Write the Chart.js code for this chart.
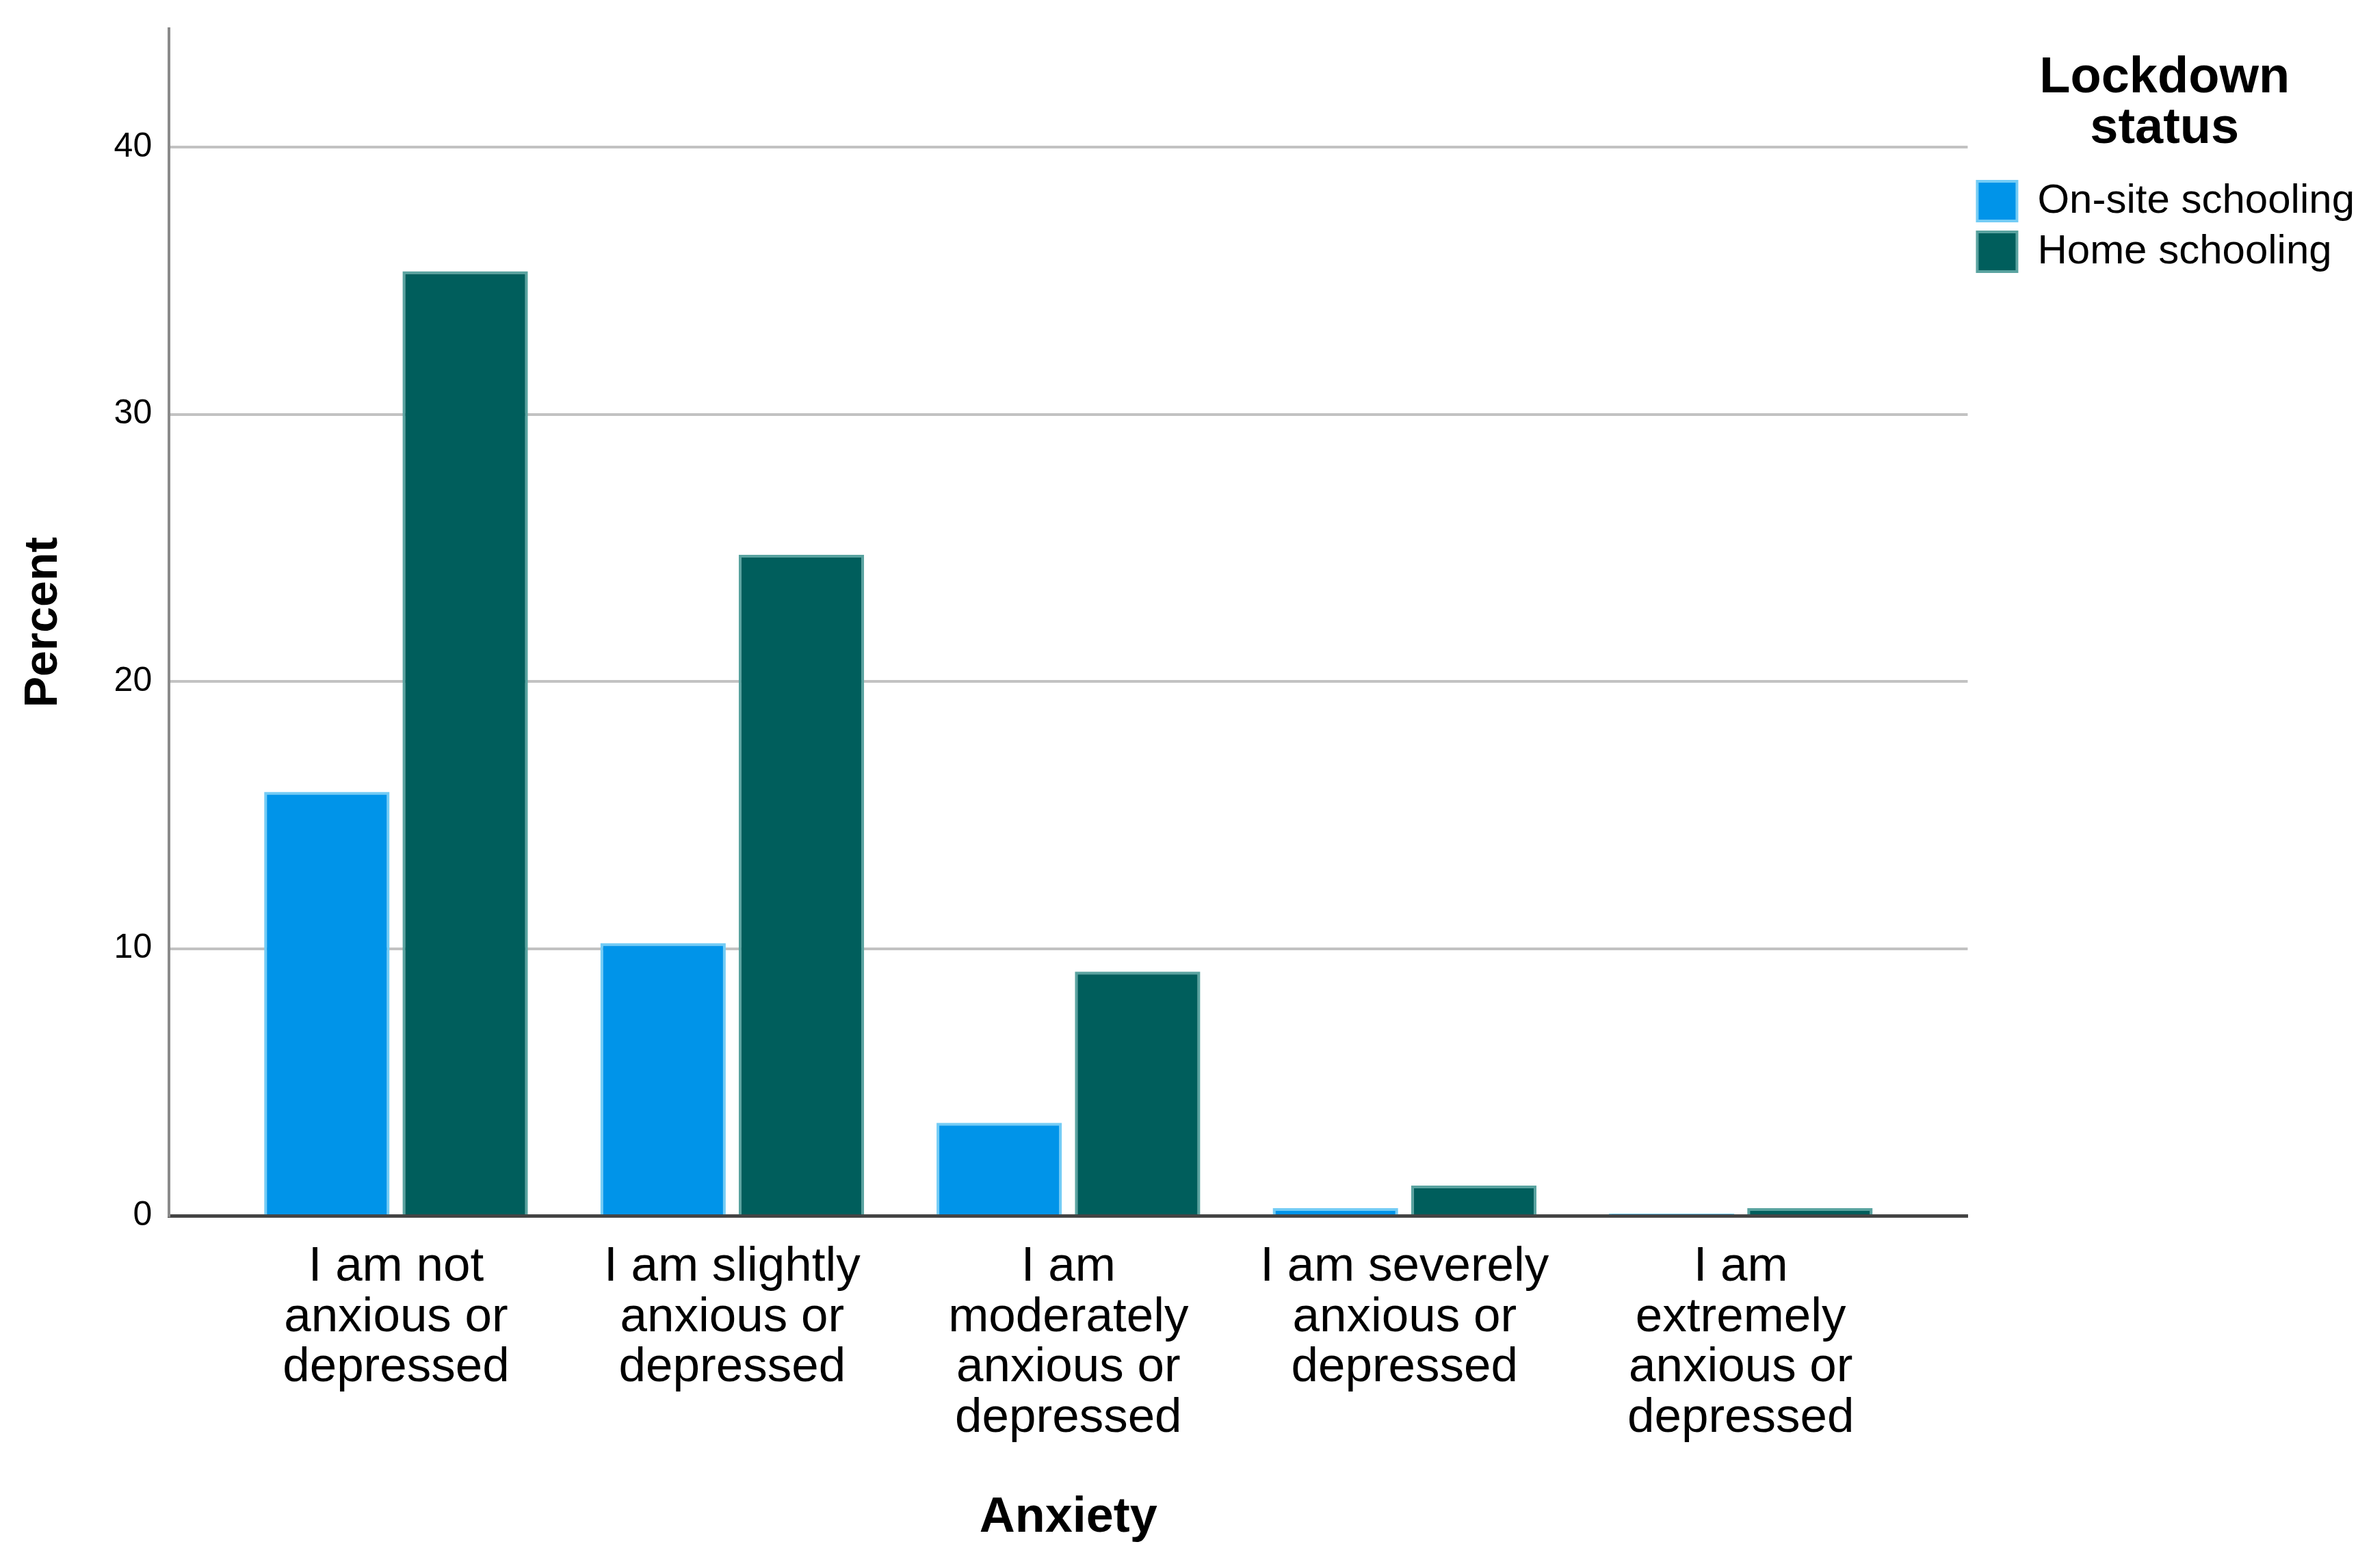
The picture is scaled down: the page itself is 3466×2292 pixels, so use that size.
<!DOCTYPE html>
<html>
<head>
<meta charset="utf-8">
<script src="https://cdn.jsdelivr.net/npm/chart.js@4/dist/chart.umd.min.js"></script>
<style>
  html, body { margin: 0; padding: 0; background: #ffffff; }
  #wrap { width: 3466px; height: 2292px; }
</style>
</head>
<body>
<div id="wrap"><canvas id="c" width="3466" height="2292"></canvas></div>
<script>
// ---- data ----
const categories = [
  ["I am not", "anxious or", "depressed"],
  ["I am slightly", "anxious or", "depressed"],
  ["I am", "moderately", "anxious or", "depressed"],
  ["I am severely", "anxious or", "depressed"],
  ["I am", "extremely", "anxious or", "depressed"]
];
const seriesNames = ["On-site schooling", "Home schooling"];
const onSite = [15.87, 10.21, 3.48, 0.29, 0.08];
const home = [35.35, 24.74, 9.14, 1.13, 0.29];
const yTicks = [0, 10, 20, 30, 40];
const yMax = 44.43;
const legendTitle = ["Lockdown", "status"];
const xTitle = "Anxiety";
const yTitle = "Percent";

// ---- chart ----
const FONT = "'Liberation Sans', Arial, sans-serif";
const catIdx = categories.map((_, i) => i);
const toPoints = arr => arr.map((v, i) => ({ x: catIdx[i], y: v }));

new Chart(document.getElementById('c'), {
  type: 'bar',
  data: {
    datasets: [
      {
        label: seriesNames[0],
        data: toPoints(onSite),
        backgroundColor: '#0094e9',
        borderColor: '#74ccf5',
        borderWidth: 4
      },
      {
        label: seriesNames[1],
        data: toPoints(home),
        backgroundColor: '#005e5c',
        borderColor: '#5aa3a0',
        borderWidth: 4
      }
    ]
  },
  options: {
    responsive: false,
    devicePixelRatio: 1,
    animation: false,
    categoryPercentage: 0.823,
    barPercentage: 0.9065,
    layout: { padding: { top: 42, right: 14, bottom: 0, left: 0 } },
    plugins: {
      tooltip: { enabled: false },
      legend: {
        position: 'right',
        align: 'start',
        labels: {
          boxWidth: 58,
          boxHeight: 58,
          padding: 14,
          color: '#000000',
          font: { family: FONT, size: 60 }
        },
        title: {
          display: true,
          text: legendTitle,
          color: '#000000',
          font: { family: FONT, size: 74, weight: 'bold', lineHeight: 1.0 },
          padding: { top: 36, bottom: 98 }
        }
      }
    },
    scales: {
      x: {
        type: 'linear',
        offset: false,
        min: -0.675,
        max: categories.length - 1 + 0.675,
        afterBuildTicks: scale => { scale.ticks = catIdx.map(v => ({ value: v })); },
        grid: {
          display: true,
          drawOnChartArea: false,
          drawTicks: true,
          tickLength: 38,
          color: 'rgba(0,0,0,0)',
          tickColor: 'rgba(0,0,0,0)'
        },
        border: { display: true, color: '#444444', width: 5 },
        ticks: {
          autoSkip: false,
          maxRotation: 0,
          minRotation: 0,
          padding: 0,
          color: '#000000',
          font: { family: FONT, size: 71, lineHeight: 1.04 },
          callback: (value, index) => categories[index]
        },
        title: {
          display: true,
          text: xTitle,
          color: '#000000',
          font: { family: FONT, size: 72, weight: 'bold', lineHeight: 1.2 },
          padding: { top: 65, bottom: 30 }
        }
      },
      y: {
        min: 0,
        max: yMax,
        afterBuildTicks: scale => { scale.ticks = yTicks.map(v => ({ value: v })); },
        grid: {
          color: '#c2c2c2',
          lineWidth: 4,
          drawTicks: true,
          tickLength: 25,
          tickColor: 'rgba(0,0,0,0)'
        },
        border: { display: true, color: '#8a8a8a', width: 4 },
        ticks: {
          padding: 0,
          color: '#000000',
          font: { family: FONT, size: 50 }
        },
        title: {
          display: true,
          text: yTitle,
          color: '#000000',
          font: { family: FONT, size: 68, weight: 'bold', lineHeight: 1.2 },
          padding: { top: 23, bottom: 62 }
        }
      }
    }
  }
});
</script>
</body>
</html>
